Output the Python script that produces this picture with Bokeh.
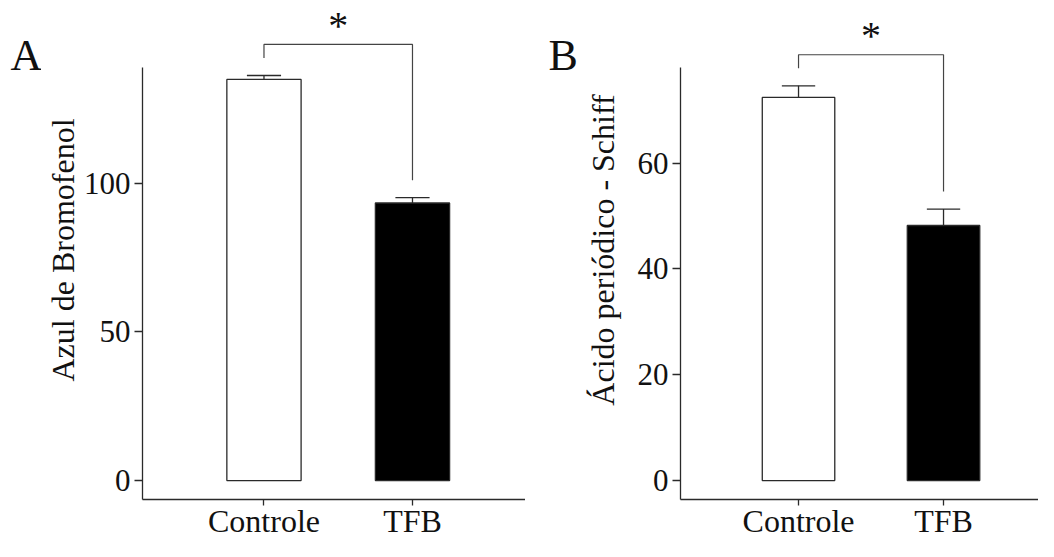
from bokeh.plotting import figure
from bokeh.models import Range1d, FixedTicker
from bokeh.layouts import row
from bokeh.embed import file_html
from bokeh.resources import INLINE
from bokeh.core.properties import value

# ---- data ----
categories = ["Controle", "TFB"]
azul_means = [135.0, 93.4]
azul_sem = [1.3, 1.8]
pas_means = [72.4, 48.2]
pas_sem = [2.2, 3.1]
azul_ticks = [0, 50, 100]
pas_ticks = [0, 20, 40, 60]
bar_fills = ["white", "black"]
panel_letters = ["A", "B"]

FONT = "Liberation Serif"
INK = "#111111"
LINE = "#2a2a2a"
HEIGHT = 541
ZERO_PX = 494.0        # reference pixel row of value 0
AXIS_PX = 513.5        # reference pixel row of the x axis line


def letter_fig(width, letter, x_px, base_px):
    f = figure(width=width, height=HEIGHT, x_range=Range1d(0, width),
               y_range=Range1d(HEIGHT, 0), x_axis_type=None, y_axis_type=None,
               output_backend="svg", toolbar_location=None,
               min_border_left=0, min_border_right=0, min_border_top=0,
               min_border_bottom=0)
    f.grid.visible = False
    f.outline_line_color = None
    f.text(x=[x_px], y=[base_px], text=[letter], text_font=value(FONT),
           text_font_size="44px", text_color=INK, text_align="left",
           text_baseline="alphabetic")
    return f


def make_panel(ylabel, means, sems, ticks, *, width, ppu, axis_top,
               x_start, x_end, border_left, label_standoff):
    xs = list(range(len(categories)))
    y_start = -(AXIS_PX - ZERO_PX) / ppu
    y_end = ZERO_PX / ppu
    p = figure(width=width, height=HEIGHT,
               x_range=Range1d(x_start, x_end), y_range=Range1d(y_start, y_end),
               output_backend="svg", toolbar_location=None,
               min_border_left=border_left, min_border_right=0,
               min_border_top=0, min_border_bottom=0)
    p.grid.visible = False
    p.outline_line_color = None

    # bars
    p.vbar(x=xs, top=means, bottom=0, width=0.5, fill_color=bar_fills,
           line_color=LINE, line_width=1.3)
    # upper error bars
    tops = [m + s for m, s in zip(means, sems)]
    p.segment(x0=xs, y0=means, x1=xs, y1=tops, line_color=LINE, line_width=1.3)
    cap = 0.115
    p.segment(x0=[x - cap for x in xs], y0=tops, x1=[x + cap for x in xs],
              y1=tops, line_color=LINE, line_width=1.3)

    # significance bracket
    br = max(tops) + 32 / ppu
    legs = [t + 18 / ppu for t in tops]
    p.multi_line(xs=[[xs[0], xs[0], xs[1], xs[1]]],
                 ys=[[legs[0], br, br, legs[1]]],
                 line_color="#444444", line_width=1.2)
    p.text(x=[(xs[0] + xs[1]) / 2], y=[br + 19.5 / ppu], text=["*"],
           text_font=value(FONT), text_font_size="40px", text_color=INK,
           text_align="center", text_baseline="alphabetic")

    # axes
    for ax in (p.xaxis[0], p.yaxis[0]):
        ax.axis_line_color = LINE
        ax.axis_line_width = 1.3
        ax.major_tick_line_color = LINE
        ax.major_tick_line_width = 1.3
        ax.minor_tick_line_color = None
        ax.major_tick_in = 0
        ax.major_label_text_font = FONT
        ax.major_label_text_color = INK
    p.xaxis.ticker = FixedTicker(ticks=xs)
    p.xaxis.major_label_overrides = {x: c for x, c in zip(xs, categories)}
    p.xaxis.major_tick_out = 6
    p.xaxis.major_label_standoff = -3
    p.xaxis.major_label_text_line_height = 1.0
    p.xaxis.major_label_text_font_size = "32px"

    p.yaxis.ticker = FixedTicker(ticks=ticks)
    p.yaxis.bounds = (y_start, axis_top)
    p.yaxis.major_tick_out = 8
    p.yaxis.major_label_standoff = 4
    p.yaxis.major_label_text_font_size = "31px"
    p.yaxis.axis_label = ylabel
    p.yaxis.axis_label_text_font = FONT
    p.yaxis.axis_label_text_font_size = "32px"
    p.yaxis.axis_label_text_font_style = "normal"
    p.yaxis.axis_label_text_color = INK
    p.yaxis.axis_label_standoff = label_standoff
    return p


fA = letter_fig(41, panel_letters[0], 10, 60)
pA = make_panel("Azul de Bromofenol", azul_means, azul_sem, azul_ticks,
                width=484, ppu=3.058, axis_top=139.0,
                x_start=-0.818, x_end=1.761,
                border_left=101, label_standoff=0)
fB = letter_fig(54, panel_letters[1], 23, 60)
pB = make_panel("Ácido periódico - Schiff", pas_means, pas_sem, pas_ticks,
                width=459, ppu=5.445, axis_top=78.1,
                x_start=-0.814, x_end=1.655,
                border_left=101, label_standoff=14)

layout = row(fA, pA, fB, pB)
open("out.html", "w").write(file_html(layout, INLINE))
